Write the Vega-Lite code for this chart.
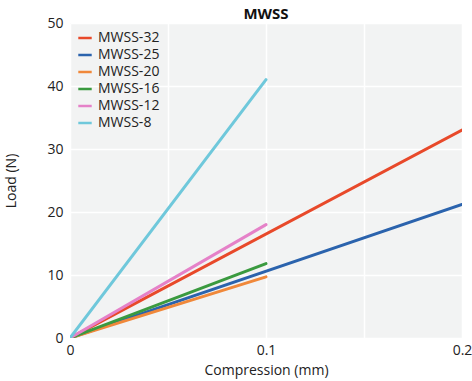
{
  "$schema": "https://vega.github.io/schema/vega-lite/v6.json",
  "width": 392,
  "height": 315,
  "autosize": {"type": "none"},
  "padding": {"left": 70, "top": 23, "right": 10, "bottom": 43},
  "background": "white",
  "config": {
    "font": "Open Sans",
    "view": {"stroke": null, "fill": "#f2f3f3"},
    "axis": {"labelFont": "Open Sans", "titleFont": "Open Sans", "labelColor": "#222", "titleColor": "#222", "labelFontSize": 14, "titleFontSize": 14, "titleFontWeight": "normal", "gridColor": "white", "gridWidth": 1.5, "gridOpacity": 1, "domain": false, "ticks": false}
  },
  "title": {"text": "MWSS", "fontSize": 15, "fontWeight": "bold", "font": "Open Sans", "color": "#111", "offset": 4, "dy": 10, "anchor": "middle", "frame": "group"},
  "data": {"values": [
    {"series": "MWSS-32", "x": 0, "y": 0},
    {"series": "MWSS-32", "x": 0.2, "y": 33},
    {"series": "MWSS-25", "x": 0, "y": 0},
    {"series": "MWSS-25", "x": 0.2, "y": 21.2},
    {"series": "MWSS-20", "x": 0, "y": 0},
    {"series": "MWSS-20", "x": 0.1, "y": 9.7},
    {"series": "MWSS-16", "x": 0, "y": 0},
    {"series": "MWSS-16", "x": 0.1, "y": 11.8},
    {"series": "MWSS-12", "x": 0, "y": 0},
    {"series": "MWSS-12", "x": 0.1, "y": 18},
    {"series": "MWSS-8", "x": 0, "y": 0},
    {"series": "MWSS-8", "x": 0.1, "y": 41}
  ]},
  "mark": {"type": "line", "strokeWidth": 3, "strokeCap": "round", "clip": true},
  "encoding": {
    "x": {"field": "x", "type": "quantitative", "scale": {"domain": [0, 0.2], "nice": false},
      "axis": {"title": "Compression (mm)", "values": [0, 0.05, 0.1, 0.15, 0.2], "format": "~g", "labelExpr": "indexof(['0','0.1','0.2'], datum.label) >= 0 ? datum.label : ''", "labelPadding": 5, "titlePadding": 6, "labelFlush": false}},
    "y": {"field": "y", "type": "quantitative", "scale": {"domain": [0, 50], "nice": false},
      "axis": {"title": "Load (N)", "values": [0, 10, 20, 30, 40, 50], "labelPadding": 7, "titlePadding": 28}},
    "color": {"field": "series", "type": "nominal",
      "scale": {"domain": ["MWSS-32", "MWSS-25", "MWSS-20", "MWSS-16", "MWSS-12", "MWSS-8"], "range": ["#e8492a", "#2b63ad", "#f0883a", "#3a9a3f", "#e581c8", "#6fc8db"]},
      "legend": {"title": null, "orient": "top-left", "offset": 7, "labelFontSize": 14, "labelFont": "Open Sans", "labelColor": "#222", "symbolType": "stroke", "symbolStrokeWidth": 2.5, "symbolSize": 180, "rowPadding": 2, "labelOffset": 5}}
  }
}
